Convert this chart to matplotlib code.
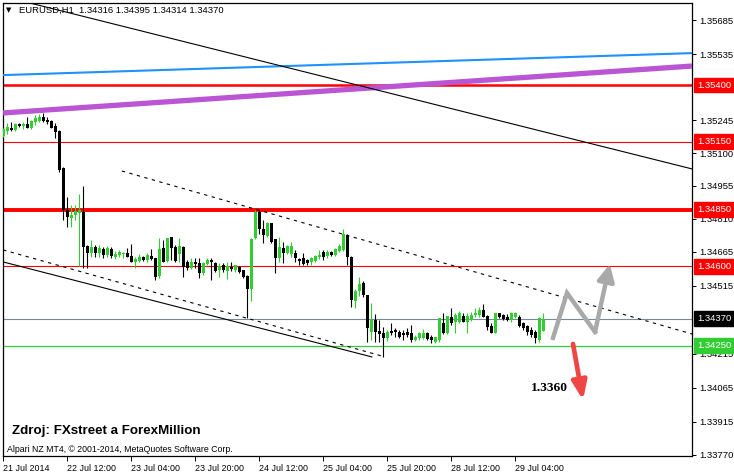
import matplotlib
matplotlib.use('Agg')
import matplotlib.pyplot as plt

# ---------------- data (EURUSD H1) ----------------
opens = [1.35175, 1.35197, 1.35210, 1.35202, 1.35228, 1.35219, 1.35228, 1.35210, 1.35237, 1.35241,
         1.35259, 1.35246, 1.35241, 1.35219, 1.35197, 1.35034, 1.34849, 1.34814, 1.34827, 1.34836,
         1.34840, 1.34690, 1.34659, 1.34686, 1.34659, 1.34677, 1.34650, 1.34677, 1.34642, 1.34650,
         1.34655, 1.34659, 1.34646, 1.34620, 1.34624, 1.34642, 1.34628, 1.34646, 1.34637, 1.34558,
         1.34681, 1.34624, 1.34730, 1.34686, 1.34655, 1.34686, 1.34620, 1.34593, 1.34620, 1.34615,
         1.34571, 1.34611, 1.34628, 1.34615, 1.34584, 1.34606, 1.34580, 1.34597, 1.34584, 1.34597,
         1.34584, 1.34558, 1.34500, 1.34726, 1.34840, 1.34765, 1.34734, 1.34792, 1.34721, 1.34637,
         1.34681, 1.34659, 1.34655, 1.34659, 1.34633, 1.34637, 1.34628, 1.34620, 1.34624, 1.34642,
         1.34664, 1.34646, 1.34664, 1.34650, 1.34668, 1.34673, 1.34739, 1.34642, 1.34448, 1.34492,
         1.34527, 1.34474, 1.34311, 1.34364, 1.34316, 1.34307, 1.34285, 1.34316, 1.34320, 1.34311,
         1.34307, 1.34311, 1.34307, 1.34276, 1.34285, 1.34285, 1.34307, 1.34289, 1.34267, 1.34276,
         1.34351, 1.34307, 1.34377, 1.34355, 1.34355, 1.34382, 1.34355, 1.34364, 1.34386, 1.34386,
         1.34408, 1.34382, 1.34337, 1.34307, 1.34395, 1.34386, 1.34377, 1.34364, 1.34377, 1.34377,
         1.34351, 1.34337, 1.34320, 1.34311, 1.34276, 1.34316]
highs = [1.35210, 1.35233, 1.35237, 1.35233, 1.35233, 1.35237, 1.35259, 1.35246, 1.35268, 1.35272,
         1.35277, 1.35259, 1.35246, 1.35233, 1.35202, 1.35039, 1.34906, 1.34871, 1.34871, 1.34919,
         1.34955, 1.34695, 1.34717, 1.34695, 1.34695, 1.34686, 1.34690, 1.34686, 1.34668, 1.34673,
         1.34664, 1.34681, 1.34699, 1.34642, 1.34655, 1.34646, 1.34659, 1.34677, 1.34637, 1.34726,
         1.34717, 1.34726, 1.34730, 1.34695, 1.34726, 1.34690, 1.34628, 1.34637, 1.34637, 1.34637,
         1.34620, 1.34637, 1.34637, 1.34620, 1.34615, 1.34615, 1.34620, 1.34620, 1.34606, 1.34602,
         1.34584, 1.34562, 1.34726, 1.34849, 1.34849, 1.34805, 1.34796, 1.34792, 1.34721, 1.34730,
         1.34708, 1.34695, 1.34708, 1.34673, 1.34637, 1.34659, 1.34633, 1.34642, 1.34650, 1.34673,
         1.34673, 1.34673, 1.34668, 1.34681, 1.34699, 1.34765, 1.34743, 1.34646, 1.34500, 1.34553,
         1.34536, 1.34474, 1.34439, 1.34390, 1.34364, 1.34333, 1.34320, 1.34351, 1.34329, 1.34320,
         1.34320, 1.34329, 1.34342, 1.34298, 1.34311, 1.34324, 1.34311, 1.34298, 1.34289, 1.34373,
         1.34395, 1.34382, 1.34417, 1.34395, 1.34404, 1.34395, 1.34395, 1.34399, 1.34417, 1.34421,
         1.34434, 1.34386, 1.34351, 1.34395, 1.34395, 1.34390, 1.34390, 1.34399, 1.34399, 1.34386,
         1.34355, 1.34342, 1.34333, 1.34320, 1.34377, 1.34395]
lows = [1.35171, 1.35184, 1.35197, 1.35197, 1.35215, 1.35206, 1.35210, 1.35206, 1.35224, 1.35237,
        1.35237, 1.35228, 1.35210, 1.35166, 1.35016, 1.34805, 1.34774, 1.34774, 1.34805, 1.34602,
        1.34593, 1.34593, 1.34642, 1.34642, 1.34642, 1.34637, 1.34642, 1.34637, 1.34633, 1.34642,
        1.34637, 1.34642, 1.34620, 1.34593, 1.34620, 1.34624, 1.34620, 1.34628, 1.34540, 1.34549,
        1.34620, 1.34620, 1.34628, 1.34620, 1.34620, 1.34553, 1.34584, 1.34589, 1.34593, 1.34549,
        1.34562, 1.34606, 1.34540, 1.34575, 1.34553, 1.34575, 1.34545, 1.34580, 1.34575, 1.34571,
        1.34549, 1.34373, 1.34448, 1.34721, 1.34743, 1.34703, 1.34730, 1.34703, 1.34571, 1.34620,
        1.34615, 1.34655, 1.34642, 1.34620, 1.34606, 1.34606, 1.34606, 1.34606, 1.34620, 1.34633,
        1.34628, 1.34637, 1.34646, 1.34646, 1.34664, 1.34668, 1.34606, 1.34421, 1.34417, 1.34470,
        1.34465, 1.34267, 1.34276, 1.34267, 1.34267, 1.34201, 1.34271, 1.34298, 1.34289, 1.34285,
        1.34276, 1.34289, 1.34267, 1.34271, 1.34276, 1.34280, 1.34276, 1.34262, 1.34262, 1.34267,
        1.34302, 1.34302, 1.34342, 1.34307, 1.34351, 1.34355, 1.34307, 1.34359, 1.34377, 1.34377,
        1.34377, 1.34320, 1.34307, 1.34307, 1.34373, 1.34364, 1.34359, 1.34355, 1.34373, 1.34333,
        1.34320, 1.34298, 1.34289, 1.34262, 1.34267, 1.34314]
closes = [1.35206, 1.35215, 1.35202, 1.35228, 1.35219, 1.35228, 1.35210, 1.35241, 1.35255, 1.35259,
          1.35241, 1.35237, 1.35210, 1.35193, 1.35025, 1.34849, 1.34818, 1.34827, 1.34844, 1.34849,
          1.34686, 1.34659, 1.34686, 1.34659, 1.34681, 1.34650, 1.34681, 1.34646, 1.34655, 1.34664,
          1.34659, 1.34642, 1.34620, 1.34633, 1.34642, 1.34628, 1.34650, 1.34633, 1.34553, 1.34677,
          1.34620, 1.34726, 1.34681, 1.34624, 1.34690, 1.34597, 1.34593, 1.34620, 1.34611, 1.34571,
          1.34615, 1.34628, 1.34620, 1.34580, 1.34602, 1.34584, 1.34602, 1.34589, 1.34606, 1.34575,
          1.34553, 1.34500, 1.34721, 1.34840, 1.34765, 1.34739, 1.34792, 1.34708, 1.34637, 1.34686,
          1.34659, 1.34690, 1.34690, 1.34637, 1.34624, 1.34611, 1.34615, 1.34637, 1.34646, 1.34650,
          1.34642, 1.34664, 1.34650, 1.34677, 1.34690, 1.34743, 1.34642, 1.34452, 1.34492, 1.34522,
          1.34474, 1.34329, 1.34364, 1.34311, 1.34302, 1.34285, 1.34311, 1.34307, 1.34311, 1.34289,
          1.34298, 1.34298, 1.34276, 1.34289, 1.34307, 1.34307, 1.34280, 1.34276, 1.34289, 1.34373,
          1.34307, 1.34382, 1.34351, 1.34386, 1.34395, 1.34355, 1.34382, 1.34386, 1.34395, 1.34408,
          1.34377, 1.34333, 1.34307, 1.34395, 1.34377, 1.34368, 1.34364, 1.34395, 1.34395, 1.34337,
          1.34329, 1.34311, 1.34298, 1.34285, 1.34373, 1.34370]

x_tick_idx = [0, 16, 32, 48, 64, 80, 96, 112, 128]
x_tick_labels = ['21 Jul 2014', '22 Jul 12:00', '23 Jul 04:00', '23 Jul 20:00', '24 Jul 12:00',
                 '25 Jul 04:00', '25 Jul 20:00', '28 Jul 12:00', '29 Jul 04:00']
y_ticks = [1.35685, 1.35535, 1.35245, 1.35100, 1.34955, 1.34810, 1.34665, 1.34515,
           1.34215, 1.34065, 1.33915, 1.33770]

red_levels = [1.35400, 1.35150, 1.34850, 1.34600]
current_price = 1.34370
support_level = 1.34250

# trend / indicator lines: (bar index, price) end points
blue_line = [(-0.1, 1.35444), (172.2, 1.35541)]
purple_line = [(-0.1, 1.35277), (172.2, 1.35484)]
black_trend = [(6.6, 1.35762), (172.2, 1.35030)]
upper_dashed = [(29.6, 1.35021), (172.2, 1.34302)]
lower_dashed = [(-0.1, 1.34673), (95.4, 1.34201)]
lower_solid = [(-0.1, 1.34620), (92.1, 1.34201)]

gray_path_idx = [137.4, 140.9, 147.9, 151.6]
gray_path_price = [1.34285, 1.34483, 1.34311, 1.34611]
red_arrow_idx = [142.4, 144.9]
red_arrow_price = [1.34258, 1.34011]
target_text = '1.3360'
target_pos = (136.6, 1.34064)

title = 'EURUSD,H1  1.34316 1.34395 1.34314 1.34370'
source_text = 'Zdroj: FXstreet a ForexMillion'
copyright_text = 'Alpari NZ MT4, \u00a9 2001-2014, MetaQuotes Software Corp.'

# ---------------- drawing ----------------
W, H = 734, 475
fig = plt.figure(figsize=(W / 100, H / 100), dpi=100)
fig.patch.set_facecolor('white')
ax = fig.add_axes([3 / W, 19 / H, 689 / W, 453 / H])
ax.set_facecolor('white')
ax.set_xlim(-0.125, 172.15)
ax.set_ylim(1.33764, 1.35762)

GREEN = '#32CD32'
font = ['Liberation Sans', 'DejaVu Sans']

# horizontal levels
ax.axhline(red_levels[0], color='#FF0000', lw=1.8, zorder=2)
ax.axhline(red_levels[1], color='#FF0000', lw=0.8, zorder=2)
ax.axhline(red_levels[2], color='#FF0000', lw=2.8, zorder=2)
ax.axhline(red_levels[3], color='#FF0000', lw=0.8, zorder=2)
ax.axhline(current_price, color='#778899', lw=0.8, zorder=2)
ax.axhline(support_level, color=GREEN, lw=0.9, zorder=2)

# indicator lines
def seg(pts, **kw):
    ax.plot([p[0] for p in pts], [p[1] for p in pts], **kw)

seg(blue_line, color='#1E90FF', lw=1.5, zorder=3)
seg(purple_line, color='#BA55D3', lw=3.8, zorder=3, solid_capstyle='butt')
seg(black_trend, color='black', lw=0.8, zorder=3)
seg(upper_dashed, color='black', lw=0.8, ls=(0, (3, 4)), zorder=3)
seg(lower_dashed, color='black', lw=0.8, ls=(0, (3, 4)), zorder=3)
seg(lower_solid, color='black', lw=0.8, zorder=3)

# candles
for i, (o, h, l, c) in enumerate(zip(opens, highs, lows, closes)):
    col = GREEN if c >= o else 'black'
    ax.vlines(i, l, h, color=col, lw=0.8, zorder=4)
    lo, hi = min(o, c), max(o, c)
    hgt = max(hi - lo, 0.000025)
    ax.bar(i, hgt, bottom=lo, width=0.75, color=col, linewidth=0, zorder=5)

# arrows
ax.plot(gray_path_idx[:-1], gray_path_price[:-1], color='#A9A9A9', lw=3.2,
        solid_joinstyle='miter', zorder=6)
ax.annotate('', xy=(gray_path_idx[-1], gray_path_price[-1]),
            xytext=(gray_path_idx[-2], gray_path_price[-2]),
            arrowprops=dict(arrowstyle='-|>,head_length=0.5,head_width=0.25', lw=3.2,
                            color='#A9A9A9', mutation_scale=20, shrinkA=0, shrinkB=0),
            zorder=6)
ax.annotate('', xy=(red_arrow_idx[1], red_arrow_price[1]),
            xytext=(red_arrow_idx[0], red_arrow_price[0]),
            arrowprops=dict(arrowstyle='-|>,head_length=0.55,head_width=0.22', lw=3.4,
                            color='#F04545', mutation_scale=20, shrinkA=0, shrinkB=0),
            zorder=6)
ax.text(target_pos[0], target_pos[1], target_text, ha='center', va='center',
        family=['Liberation Serif', 'DejaVu Serif'], fontweight='bold', fontsize=9.7,
        color='black', zorder=7)

# axes styling
for s in ax.spines.values():
    s.set_color('black')
    s.set_linewidth(0.9)
ax.yaxis.tick_right()
ax.set_yticks(y_ticks)
ax.set_yticklabels([f'{v:.5f}' for v in y_ticks], family=font, fontsize=6.8)
ax.tick_params(axis='y', direction='out', length=3, width=0.7, pad=2.5, colors='black')
ax.set_xticks(x_tick_idx)
ax.set_xticklabels(x_tick_labels, family=font, fontsize=6.4)
for lab in ax.get_xticklabels():
    lab.set_ha('left')
ax.tick_params(axis='x', direction='out', length=3.5, width=0.7, pad=2, colors='black')

# colored price boxes on the right axis
ytr = ax.get_yaxis_transform()
box_levels = red_levels + [current_price, support_level]
box_colors = ['#FF0000'] * 4 + ['black', GREEN]
for lv, bc in zip(box_levels, box_colors):
    ax.text(1.0075, lv, f'{lv:.5f}', transform=ytr, ha='left', va='center',
            family=font, fontsize=6.8, color='white', zorder=10, clip_on=False,
            bbox=dict(boxstyle='square,pad=0.3', fc=bc, ec=bc))

# texts
fig.text(6 / W, 1 - 10.5 / H, '\u25bc', fontsize=5, va='center', ha='left', color='black')
fig.text(19 / W, 1 - 10.5 / H, title, fontsize=6.8, family=font, va='center', ha='left',
         color='black')
fig.text(12 / W, 1 - 431 / H, source_text, fontsize=9.6, family=font, fontweight='bold',
         va='center', ha='left', color='black')
fig.text(7 / W, 1 - 450 / H, copyright_text, fontsize=6.3, family=font, va='center',
         ha='left', color='black')

fig.savefig('out.png', dpi=100, facecolor='white')
